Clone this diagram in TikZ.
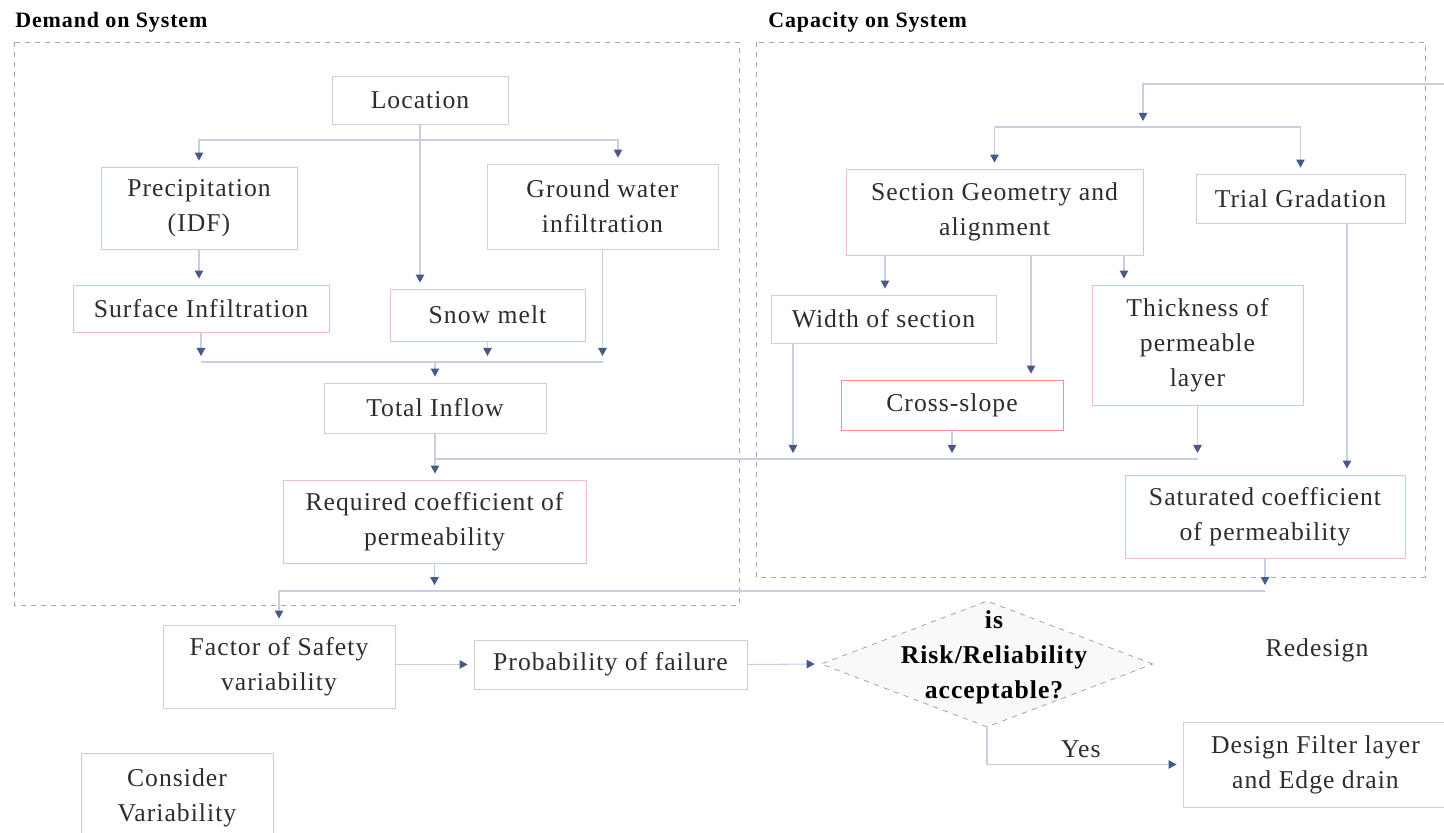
\documentclass[tikz,border=0pt]{standalone}
\usepackage{fontspec}
\setmainfont{Liberation Serif}[LetterSpace=4]
\usetikzlibrary{arrows.meta, shapes.geometric}

\definecolor{wireblue}{RGB}{198,206,228}
\definecolor{tipblue}{RGB}{72,88,135}
\definecolor{boxgray}{RGB}{208,208,211}
\definecolor{boxpink}{RGB}{236,190,198}
\definecolor{inkgray}{RGB}{45,45,45}

\begin{document}
\begin{tikzpicture}[
    font=\fontsize{14.6}{19.8}\selectfont,
    box/.style={
        draw=boxgray,
        line width=0.5pt,
        align=center,
        inner sep=2pt,
        text=inkgray
    },
    pbox/.style={
        box,
        draw=boxpink
    },
    zone/.style={
        draw=gray!70,
        line width=0.5pt,
        dash pattern=on 1mm off 1mm
    },
    wire/.style={
        draw=wireblue,
        line width=0.6pt
    },
    flow/.style={
        wire,
        -{Triangle[length=1.6mm,width=1.7mm,color=tipblue]},
        shorten >=1.2mm
    },
    decide/.style={
        diamond,
        draw=gray!80,
        dashed,
        fill=gray!5,
        inner sep=0pt,
        minimum width=66.4mm,
        minimum height=25.2mm
    },
    title/.style={
        font=\fontsize{12.5}{15}\selectfont\bfseries,
        anchor=west,
        inner sep=0pt
    }
]

\useasboundingbox (0,0) rectangle (28.88,-16.66);

% Two groups
\draw[zone] (0.28,-0.84) rectangle (14.78,-12.10);
\draw[zone] (15.12,-0.84) rectangle (28.50,-11.54);

\node[title] (dtitle) at (0.30,-0.44) {Demand on System};
\node[title] (ctitle) at (15.36,-0.44) {Capacity on System};

% Demand side
\node[box, minimum width=3.52cm, minimum height=0.96cm] (loc) at (8.40,-2.00) {Location};
\node[pbox, minimum width=3.92cm, minimum height=1.64cm] (pre) at (3.98,-4.16) {Precipitation\\(IDF)};
\node[box, minimum width=4.62cm, minimum height=1.70cm] (gw) at (12.05,-4.13) {Ground water\\infiltration};
\node[pbox, minimum width=5.12cm, minimum height=0.94cm] (surf) at (4.02,-6.17) {Surface Infiltration};
\node[pbox, minimum width=3.90cm, minimum height=1.04cm] (snow) at (9.75,-6.30) {Snow melt};
\node[box, minimum width=4.44cm, minimum height=1.00cm] (tot) at (8.70,-8.16) {Total Inflow};
\node[pbox, minimum width=6.06cm, minimum height=1.66cm] (req) at (8.69,-10.43) {Required coefficient of\\permeability};

% Capacity side
\node[pbox, minimum width=5.94cm, minimum height=1.72cm] (sec) at (19.89,-4.24) {Section Geometry and\\alignment};
\node[box, minimum width=4.18cm, minimum height=0.98cm] (trial) at (26.01,-3.97) {Trial Gradation};
\node[box, minimum width=4.50cm, minimum height=0.96cm] (wid) at (17.67,-6.38) {Width of section};
\node[pbox, minimum width=4.22cm, minimum height=2.40cm] (thick) at (23.95,-6.90) {Thickness of\\permeable\\layer};
\node[pbox, draw=red!45, minimum width=4.44cm, minimum height=1.00cm] (cross) at (19.04,-8.10) {Cross-slope};
\node[pbox, minimum width=5.60cm, minimum height=1.66cm] (sat) at (25.30,-10.33) {Saturated coefficient\\of permeability};

% Reliability check
\node[box, minimum width=4.64cm, minimum height=1.66cm] (fos) at (5.58,-13.33) {Factor of Safety\\variability};
\node[box, minimum width=5.46cm, minimum height=0.98cm] (pof) at (12.21,-13.29) {Probability of failure};
\node[decide] (ok) at (19.74,-13.28) {};
\node[font=\fontsize{14.6}{19.8}\selectfont\bfseries, align=center] (okq) at (19.88,-13.15) {is\\Risk/Reliability\\acceptable?};
\node[text=inkgray] (redo) at (26.34,-13.00) {Redesign};
\node[box, minimum width=5.30cm, minimum height=1.70cm] (dsn) at (26.31,-15.29) {Design Filter layer\\and Edge drain};
\node[pbox, minimum width=3.84cm, minimum height=1.80cm] (var) at (3.54,-15.96) {Consider\\Variability};

% Bus points
\coordinate (locbus) at (8.40,-2.80);
\coordinate (inbus) at (8.70,-7.24);
\coordinate (capbus) at (8.70,-9.18);
\coordinate (kbus) at (8.69,-11.82);
\coordinate (feed) at (28.88,-1.68);
\coordinate (secbus) at (22.86,-2.54);
\coordinate (gwin) at ([xshift=3.1mm]gw.north);
\coordinate (widout) at ([xshift=-18.1mm]wid.south);
\coordinate (secw) at ([xshift=-21.9mm]sec.south);
\coordinate (secc) at ([xshift=7.3mm]sec.south);
\coordinate (sect) at ([xshift=25.9mm]sec.south);
\coordinate (trialout) at ([xshift=9.3mm]trial.south);

% Inflow
\draw[flow] (loc.south) -- (locbus) -| (pre.north);
\draw[flow] (locbus) -| (gwin);
\draw[flow] (locbus) -- (locbus |- snow.north);
\draw[flow] (pre.south) -- (pre.south |- surf.north);
\draw[flow] (surf.south) -- (surf.south |- inbus);
\draw[flow] (snow.south) -- (snow.south |- inbus);
\draw[flow] (gw.south) -- (gw.south |- inbus);
\draw[wire] (surf.south |- inbus) -- (gw.south |- inbus);
\draw[flow] (inbus) -- (tot.north);
\draw[flow] (tot.south) -- (tot.south |- req.north);

% Geometry feeds
\draw[flow] (feed) -| (secbus);
\draw[wire] (sec.north |- secbus) -- (trial.north |- secbus);
\draw[flow] (sec.north |- secbus) -- (sec.north);
\draw[flow] (trial.north |- secbus) -- (trial.north);
\draw[flow] (secw) -- (secw |- wid.north);
\draw[flow] (secc) -- (secc |- cross.north);
\draw[flow] (sect) -- (sect |- thick.north);
\draw[flow] (trialout) -- (trialout |- sat.north);

\draw[wire] (capbus) -- (thick.south |- capbus);
\draw[flow] (widout) -- (widout |- capbus);
\draw[flow] (cross.south) -- (cross.south |- capbus);
\draw[flow] (thick.south) -- (thick.south |- capbus);

% Demand against capacity
\draw[flow] (req.south) -- (req.south |- kbus);
\draw[flow] (sat.south) -- (sat.south |- kbus);
\draw[wire] (fos.north |- kbus) -- (sat.south |- kbus);
\draw[flow] (fos.north |- kbus) -- (fos.north);
\draw[flow] (fos.east |- pof.west) -- (pof.west);
\draw[flow] (pof.east) -- (ok.west);
\draw[flow] (ok.south) |- (dsn.west)
    node[pos=0.74, above, text=inkgray] (yes) {Yes};

\end{tikzpicture}
\end{document}
